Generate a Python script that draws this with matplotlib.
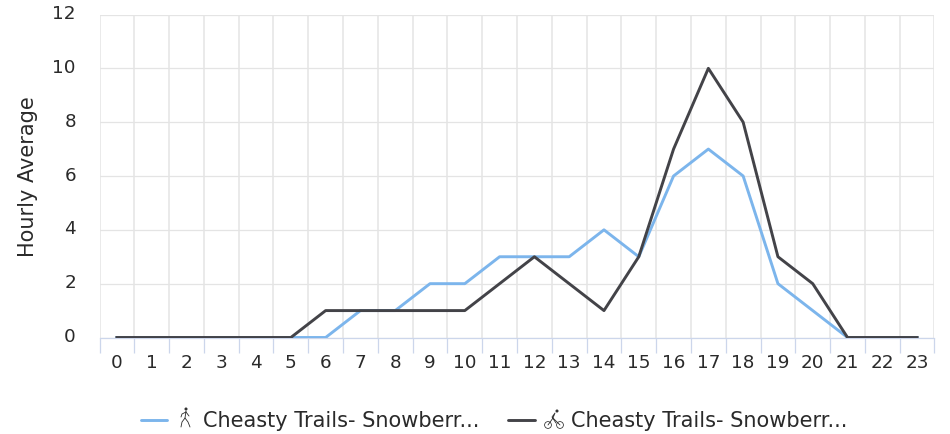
import matplotlib
matplotlib.use("Agg")
import matplotlib.pyplot as plt
from matplotlib.lines import Line2D
from matplotlib.patches import Circle
from matplotlib.transforms import ScaledTranslation

hours = list(range(24))
walk_counts = [0, 0, 0, 0, 0, 0, 0, 1, 1, 2, 2, 3, 3, 3, 4, 3, 6, 7, 6, 2, 1, 0, 0, 0]
bike_counts = [0, 0, 0, 0, 0, 0, 1, 1, 1, 1, 1, 2, 3, 2, 1, 3, 7, 10, 8, 3, 2, 0, 0, 0]
y_ticks = [0, 2, 4, 6, 8, 10, 12]
legend_label = "Cheasty Trails- Snowberr..."

WALK_COLOR = "#7cb5ec"
BIKE_COLOR = "#434348"
GRID_COLOR = "#e4e4e4"
AXIS_COLOR = "#ccd6eb"
TEXT_COLOR = "#2a2a2a"
TICK_SIZE = 13.2
LABEL_SIZE = 15.0
W, H = 950, 435

plt.rcParams["font.family"] = ["DejaVu Sans"]


def px_line(fig, xs, ys, color=TEXT_COLOR, lw=0.6):
    # coordinates are pixels from top left
    fig.add_artist(Line2D([x / W for x in xs], [1 - y / H for y in ys],
                          color=color, lw=lw, transform=fig.transFigure, solid_capstyle="round"))


def px_circle(fig, x, y, r, fill=True, lw=0.55):
    fig.add_artist(Circle((x, H - y), r, transform=None, fc=TEXT_COLOR if fill else "none",
                          ec=TEXT_COLOR, lw=lw))


fig = plt.figure(figsize=(W / 100, H / 100), dpi=100)
ax = fig.add_axes([99.5 / W, 1 - 338.5 / H, 835 / W, 323 / H])

ax.plot(hours, walk_counts, color=WALK_COLOR, lw=2.1, solid_joinstyle="round", zorder=3)
ax.plot(hours, bike_counts, color=BIKE_COLOR, lw=2.1, solid_joinstyle="round", zorder=4)

ax.set_xlim(-0.5, 23.5)
ax.set_ylim(0, 12)
ax.set_yticks(y_ticks)
ax.set_xticks(hours)
ax.set_xticks([h - 0.5 for h in hours] + [23.5], minor=True)
ax.grid(True, axis="y", color=GRID_COLOR, lw=0.9)
ax.grid(True, axis="x", which="minor", color=GRID_COLOR, lw=1.1)
ax.grid(False, axis="x", which="major")
ax.set_axisbelow(True)

for side in ["top", "left", "right"]:
    ax.spines[side].set_visible(False)
ax.spines["bottom"].set_color(AXIS_COLOR)
ax.spines["bottom"].set_linewidth(0.9)

ax.tick_params(axis="x", which="major", length=0, labelsize=TICK_SIZE, labelcolor=TEXT_COLOR, pad=11)
ax.tick_params(axis="x", which="minor", length=10.5, width=0.9, color=AXIS_COLOR)
ax.tick_params(axis="y", length=0, labelsize=TICK_SIZE, labelcolor=TEXT_COLOR, pad=17)
# y labels sit a bit above their gridlines
lift = ScaledTranslation(0, 2.5 / 72, fig.dpi_scale_trans)
for label in ax.get_yticklabels():
    label.set_transform(label.get_transform() + lift)
ax.set_ylabel("Hourly Average", fontsize=LABEL_SIZE, color=TEXT_COLOR)
ax.yaxis.set_label_coords((38 - 99.5) / 835, 0.5)

# legend
px_line(fig, [141, 167], [421, 421], WALK_COLOR, 2.1)
fig.text(203 / W, 1 - 421 / H, legend_label, fontsize=LABEL_SIZE, color=TEXT_COLOR, va="center", ha="left")
px_line(fig, [508, 535], [421, 421], BIKE_COLOR, 2.1)
fig.text(571 / W, 1 - 421 / H, legend_label, fontsize=LABEL_SIZE, color=TEXT_COLOR, va="center", ha="left")

# walker icon
px_circle(fig, 186, 410, 1.1)
px_line(fig, [186, 185, 182, 181], [412, 419, 423, 428])
px_line(fig, [185, 188, 190], [419, 423, 428])
px_line(fig, [186, 182, 181], [413, 415, 418])
px_line(fig, [186, 189], [413, 417])

# bike icon
px_circle(fig, 548, 426, 3.4, fill=False)
px_circle(fig, 560, 426, 3.4, fill=False)
px_circle(fig, 557, 412, 1.1)
px_line(fig, [548, 553, 560], [426, 419, 426])
px_line(fig, [553, 555, 552, 556], [419, 414, 418, 424])

fig.savefig("out.png", dpi=100)
